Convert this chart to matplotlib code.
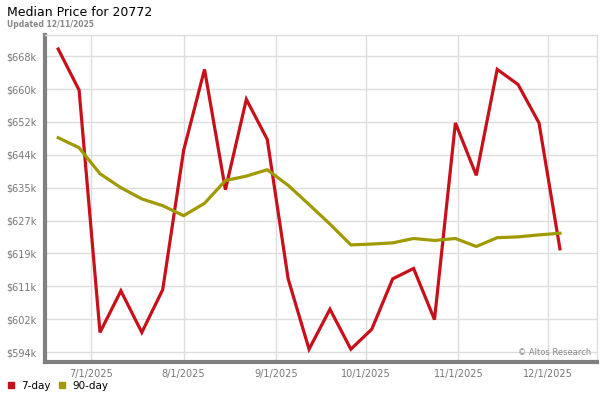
import numpy as np
import pandas as pd
import matplotlib
matplotlib.use("Agg")
from matplotlib import pyplot as plt
import matplotlib.dates as mdates
from matplotlib.ticker import FixedLocator, FuncFormatter

# weekly points, Jun 20 2025 .. Dec 5 2025
dates = pd.date_range("2025-06-20", periods=25, freq="7D")

price_7day = [670.0, 659.7, 599.1, 609.5, 599.1, 609.8, 644.6, 664.9, 634.8,
              657.4, 647.4, 612.5, 594.9, 604.9, 594.9, 599.9, 612.5, 615.1,
              602.3, 651.5, 638.4, 664.9, 661.1, 651.5, 620.0]
price_90day = [647.8, 645.3, 638.8, 635.3, 632.5, 630.8, 628.3, 631.4, 637.1,
               638.2, 639.8, 635.9, 631.1, 626.2, 621.0, 621.2, 621.5, 622.6,
               622.1, 622.6, 620.6, 622.8, 623.0, 623.5, 623.9]

ytick_vals = [594.2 + i * 8.222 for i in range(10)]
xtick_dates = pd.to_datetime(["2025-07-01", "2025-08-01", "2025-09-01",
                              "2025-10-01", "2025-11-01", "2025-12-01"])

red = "#c8101a"
olive = "#a09a00"

fig = plt.figure(figsize=(6, 4), dpi=100)
ax = fig.add_axes([0.075, 0.095, 0.92, 0.8175])

ax.plot(dates, price_7day, color=red, lw=2.3, solid_joinstyle="miter", zorder=3)
ax.plot(dates, price_90day, color=olive, lw=2.3, zorder=3)

ax.set_ylim(591.7, 673.5)
ax.set_xlim(pd.Timestamp("2025-06-15 14:00"), pd.Timestamp("2025-12-17 10:00"))

ax.yaxis.set_major_locator(FixedLocator(ytick_vals))
ax.yaxis.set_major_formatter(FuncFormatter(lambda v, p: "$%dk" % round(v)))
ax.set_xticks(mdates.date2num(xtick_dates))
ax.xaxis.set_major_formatter(mdates.DateFormatter("%-m/%-d/%Y"))

ax.grid(True, color="#dddddd", lw=1)
ax.set_axisbelow(True)
ax.tick_params(axis="both", length=0, labelsize=7, colors="#777777")
ax.tick_params(axis="y", pad=6)
ax.tick_params(axis="x", pad=5)

for s in ["top", "right"]:
    ax.spines[s].set_color("#dddddd")
    ax.spines[s].set_linewidth(1)
ax.spines["left"].set_color("#808080")
ax.spines["left"].set_linewidth(3)
ax.spines["bottom"].set_color("#808080")
ax.spines["bottom"].set_linewidth(3)

ax.text(0.99, 0.015, "\u00a9 Altos Research", transform=ax.transAxes,
        ha="right", va="bottom", fontsize=6, color="#888888")

fig.text(0.012, 0.968, "Median Price for 20772", fontsize=9, color="black",
         ha="left", va="center")
fig.text(0.012, 0.938, "Updated 12/11/2025", fontsize=5.5, color="#888888",
         ha="left", va="center", fontweight="bold")

# legend
fig.patches.append(plt.Rectangle((0.013, 0.029), 0.010, 0.015, color=red,
                                 transform=fig.transFigure, figure=fig))
fig.text(0.035, 0.036, "7-day", fontsize=7.5, va="center", ha="left")
fig.patches.append(plt.Rectangle((0.098, 0.029), 0.010, 0.015, color=olive,
                                 transform=fig.transFigure, figure=fig))
fig.text(0.12, 0.036, "90-day", fontsize=7.5, va="center", ha="left")

fig.savefig("out.png", dpi=100)
